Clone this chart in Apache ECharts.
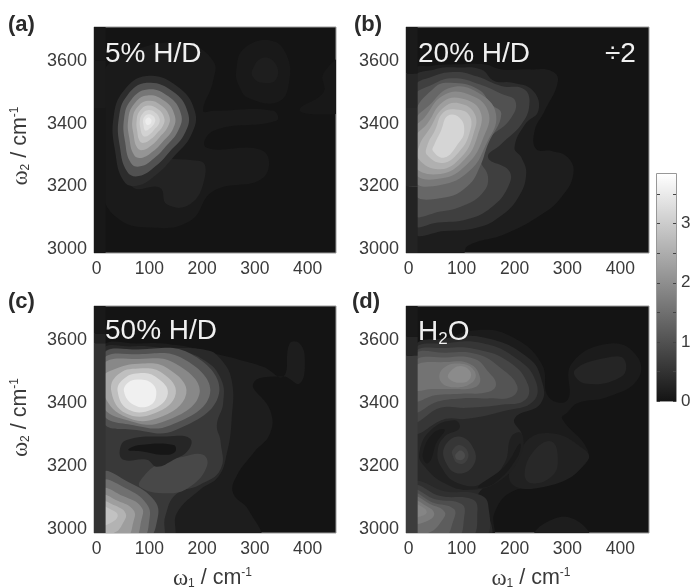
<!DOCTYPE html>
<html><head><meta charset="utf-8">
<style>html,body{margin:0;padding:0;background:#fff}#c{width:690px;height:587px;filter:blur(0.6px)}</style>
<script src="https://cdn.jsdelivr.net/npm/echarts@6/dist/echarts.min.js"></script>
</head><body><div id="c"></div>
<script>
// Each contour: [level z, x,y, x,y, ...] in (omega1, omega2) data units, painted in order.
const contoursA = [
 [0.09, 10,3547, 70,3632, 171,3653, 221,3600, 221,3536, 202,3441, 221,3441, 335,3441, 341,3409, 221,3377, 208,3324, 316,3313, 316,3228, 221,3185, 177,3090, 101,3069, 38,3101, 10,3197],
 [0.08, 265,3573, 280,3640, 330,3665, 360,3620, 365,3530, 345,3470, 290,3480, 270,3520],
 [0.06, 385,3445, 420,3430, 470,3450, 470,3610, 430,3560, 430,3500],
 [0.17, 295,3570, 315,3610, 340,3590, 340,3540, 315,3530, 298,3545],
 [0.24, 57,3260, 196,3281, 205,3228, 177,3143, 133,3143, 120,3196, 70,3196],
 [0.4, 95,3552, 152,3520, 186,3441, 180,3366, 145,3292, 114,3239, 76,3202, 51,3218, 35,3313, 32,3419, 51,3504],
 [1.0, 95,3530, 144,3503, 173,3436, 168,3372, 138,3310, 112,3265, 80,3233, 58,3247, 44,3327, 42,3417, 58,3490],
 [1.6, 96,3509, 136,3487, 160,3431, 155,3379, 131,3327, 109,3290, 83,3264, 65,3275, 54,3342, 52,3416, 65,3475],
 [2.1, 96,3490, 129,3472, 148,3427, 145,3384, 125,3342, 107,3312, 85,3291, 71,3300, 62,3354, 60,3415, 71,3463],
 [2.5, 97,3473, 122,3459, 138,3423, 135,3390, 119,3356, 105,3332, 88,3316, 77,3323, 70,3366, 68,3413, 77,3452],
 [2.85, 97,3458, 116,3447, 128,3420, 126,3394, 114,3369, 103,3351, 90,3339, 82,3344, 77,3376, 76,3412, 82,3441],
 [3.1, 97,3443, 111,3436, 119,3417, 118,3399, 109,3381, 102,3368, 93,3359, 87,3363, 83,3386, 82,3411, 87,3432],
 [3.35, 98,3430, 106,3426, 111,3414, 110,3403, 105,3391, 100,3384, 95,3378, 91,3380, 89,3395, 88,3410, 91,3423],
 [3.55, 98,3420, 103,3415, 104,3408, 101,3398, 96,3396, 93,3402, 93,3413]
];
const contoursB = [
 [0.15, 10,3568, 42,3584, 93,3589, 143,3589, 175,3573, 232,3573, 270,3568, 282,3536, 257,3441, 238,3377, 241,3319, 270,3313, 301,3292, 311,3239, 288,3165, 251,3111, 181,3048, 112,3011, 99,2970, 10,2970],
 [0.4, 10,3541, 49,3573, 93,3579, 137,3573, 162,3536, 194,3531, 235,3505, 245,3441, 220,3398, 200,3324, 213,3292, 222,3239, 207,3165, 174,3106, 130,3069, 68,3058, 10,3058],
 [0.7, 10,3082, 55,3085, 112,3096, 156,3133, 187,3196, 190,3249, 150,3292, 175,3335, 213,3398, 228,3462, 218,3510, 175,3520, 130,3550, 90,3565, 45,3550, 10,3510],
 [1.0, 10,3115, 60,3120, 105,3140, 140,3180, 150,3230, 135,3290, 150,3350, 190,3410, 202,3470, 175,3495, 135,3525, 85,3545, 45,3525, 10,3480],
 [1.35, 10,3180, 68,3165, 112,3202, 134,3260, 150,3335, 175,3430, 156,3462, 131,3510, 80,3530, 49,3515, 10,3420],
 [1.65, 10,3220, 60,3205, 115,3250, 145,3330, 165,3430, 130,3500, 80,3515, 40,3460, 10,3400],
 [1.95, 10,3245, 60,3225, 110,3270, 140,3350, 150,3440, 110,3495, 65,3490, 30,3420, 10,3380],
 [2.25, 10,3265, 60,3240, 105,3285, 130,3360, 135,3440, 100,3480, 65,3470, 35,3400, 10,3350],
 [2.55, 20,3285, 60,3255, 100,3295, 122,3365, 125,3430, 95,3465, 65,3450, 40,3385, 20,3330],
 [2.85, 35,3300, 65,3275, 95,3310, 115,3370, 115,3425, 90,3445, 65,3435, 50,3380, 35,3330],
 [3.15, 46,3313, 68,3292, 93,3335, 105,3377, 96,3419, 74,3425, 61,3377, 49,3335]
];
const contoursC = [
 [0.15, 10,3568, 82,3589, 152,3584, 221,3558, 272,3537, 316,3515, 354,3484, 366,3589, 385,3589, 395,3536, 385,3462, 354,3484, 297,3462, 329,3378, 329,3304, 297,3241, 265,3167, 259,3114, 288,3061, 306,2970, 10,2970],
 [0.35, 10,3560, 70,3580, 130,3575, 209,3568, 234,3542, 256,3473, 256,3346, 247,3241, 231,3167, 196,3125, 152,3051, 142,2970, 10,2970],
 [0.6, 10,3545, 80,3570, 150,3565, 200,3540, 235,3480, 240,3400, 228,3330, 235,3280, 235,3190, 195,3140, 150,3110, 130,3040, 122,2970, 10,2970],
 [0.85, 82,3135, 133,3114, 177,3135, 209,3199, 202,3236, 164,3230, 120,3209, 89,3167],
 [0.3, 44,3251, 57,3283, 133,3294, 177,3288, 174,3251, 146,3220, 114,3198, 95,3220, 51,3220],
 [0.03, 60,3251, 82,3267, 146,3267, 149,3246, 127,3236, 89,3246],
 [1.0, 10,3345, 75,3315, 150,3315, 232,3430, 180,3555, 80,3570, 10,3550],
 [1.45, 10,3370, 70,3330, 140,3330, 215,3430, 165,3540, 80,3555, 10,3535],
 [1.9, 10,3395, 60,3345, 125,3340, 195,3430, 150,3525, 80,3540, 10,3520],
 [2.35, 10,3436, 50,3360, 115,3352, 170,3430, 135,3510, 80,3525, 30,3505, 10,3480],
 [2.8, 28,3436, 55,3368, 110,3368, 150,3430, 125,3495, 80,3510, 40,3490],
 [3.25, 40,3436, 60,3380, 105,3380, 135,3430, 115,3480, 80,3495, 50,3475],
 [3.6, 52,3436, 70,3395, 100,3392, 113,3425, 105,3462, 80,3475, 60,3465],
 [1.1, 10,3177, 60,3150, 110,3090, 115,3030, 95,2970, 10,2970],
 [1.5, 10,3150, 55,3130, 95,3080, 100,3030, 85,2970, 10,2970],
 [1.9, 10,3125, 50,3105, 85,3070, 85,3030, 70,2970, 10,2970],
 [2.25, 10,3105, 40,3090, 70,3060, 70,3025, 55,2970, 10,2970],
 [2.6, 10,3085, 35,3075, 55,3050, 50,3020, 35,2990, 10,2985],
 [2.85, 10,3070, 30,3060, 40,3045, 32,3025, 10,3015]
];
const contoursD = [
 [0.12, 10,3557, 68,3600, 131,3632, 194,3611, 251,3526, 264,3420, 300,3410, 308,3526, 382,3589, 432,3547, 432,3473, 377,3420, 320,3400, 300,3370, 290,3350, 337,3255, 331,3202, 257,3139, 194,3118, 162,3051, 156,2970, 10,2970],
 [0.14, 238,2975, 257,3019, 308,3035, 340,2975],
 [0.27, 314,3505, 383,3547, 408,3537, 402,3484, 333,3462],
 [0.22, 194,3146, 219,3272, 270,3304, 333,3251, 339,3220, 282,3146],
 [0.32, 219,3177, 238,3251, 270,3278, 282,3220, 270,3167, 232,3146],
 [0.35, 10,3570, 70,3605, 150,3605, 225,3545, 250,3480, 250,3400, 200,3350, 215,3290, 190,3200, 140,3130, 130,3090, 150,3050, 150,2970, 10,2970],
 [0.55, 10,3565, 70,3590, 140,3590, 205,3540, 240,3470, 235,3405, 180,3375, 110,3350, 70,3350, 10,3310],
 [0.8, 10,3555, 70,3575, 130,3570, 190,3530, 225,3460, 220,3410, 175,3395, 110,3385, 60,3385, 10,3345],
 [1.05, 10,3550, 70,3560, 130,3555, 175,3510, 205,3455, 195,3420, 150,3415, 100,3415, 55,3405, 10,3375],
 [1.3, 10,3530, 70,3545, 125,3540, 150,3500, 165,3460, 150,3435, 100,3430, 50,3425, 10,3410],
 [1.55, 10,3515, 70,3530, 115,3525, 135,3480, 125,3450, 85,3445, 45,3445, 10,3445],
 [1.75, 60,3470, 65,3510, 100,3525, 125,3500, 120,3465, 85,3450],
 [1.95, 75,3480, 85,3510, 105,3515, 118,3490, 105,3465],
 [0.2, 20,3241, 42,3315, 87,3346, 96,3320, 68,3294, 55,3251, 61,3199, 93,3146, 143,3146, 181,3209, 194,3294, 213,3304, 213,3241, 175,3157, 118,3125, 68,3146, 30,3199],
 [0.1, 27,3241, 46,3304, 68,3315, 52,3273, 42,3220, 33,3209],
 [0.1, 131,3135, 181,3199, 210,3272, 206,3230, 162,3146],
 [0.55, 68,3262, 96,3294, 124,3251, 121,3199, 93,3177, 71,3209],
 [0.72, 83,3251, 96,3267, 112,3245, 108,3214, 93,3209, 83,3235],
 [0.92, 90,3240, 98,3250, 106,3238, 103,3222, 93,3220, 88,3230],
 [0.45, 10,3146, 70,3120, 130,3112, 150,3080, 140,2970, 10,2970],
 [0.7, 10,3135, 60,3105, 120,3095, 130,3060, 115,2970, 10,2970],
 [0.95, 10,3120, 50,3095, 100,3080, 105,3040, 90,2970, 10,2970],
 [1.2, 10,3110, 45,3085, 85,3065, 85,3030, 65,2970, 10,2970],
 [1.45, 10,3100, 40,3080, 68,3055, 62,3025, 40,2990, 10,2985],
 [1.7, 10,3090, 32,3075, 48,3052, 40,3030, 10,3022],
 [1.85, 10,3078, 28,3068, 34,3052, 22,3040, 10,3040]
];
// Left data strip of each panel: [omega2 from, omega2 to, level z]
const stripA = [[2985,3450,0.06],[3450,3600,0.12],[3600,3710,0.06]];
const stripB = [[2985,3200,0.25],[3200,3450,0.35],[3450,3560,0.3],[3560,3710,0.1]];
const stripC = [[2985,3590,0.5],[3590,3620,0.25],[3620,3710,0.08]];
const stripD = [[2985,3550,0.65],[3550,3610,0.3],[3610,3710,0.08]];

const xTicks = [0,100,200,300,400];
const yTicks = [3000,3200,3400,3600];
const cbTicks = [0,1,2,3];
const cbMinor = [0.5,1.5,2.5,3.5];
const xRange = [-5,454], yRange = [2988,3708], zMax = 3.84, stripEnd = 17;
const panelLetters = ['(a)','(b)','(c)','(d)'];
const insetLabels = ['5% H/D','20% H/D','50% H/D','{m|H}{s|2}{m|O}'];

const FONT = '"Liberation Sans", Arial, sans-serif';
const INK = '#3a3a3a';
const plain = v => String(v);
const gray = z => { const v = Math.round(20 + 235 * Math.min(z, zMax) / zMax); return `rgb(${v},${v},${v})`; };
const rects = [[94,27,242,226],[406,27,243,226],[94,306,242,227],[406,306,243,227]];
const axisRich = {
  o:{fontFamily:'"Liberation Serif",serif',fontSize:23,color:INK,verticalAlign:'middle'},
  t:{fontFamily:FONT,fontSize:21.5,color:INK,verticalAlign:'middle'},
  sub:{fontFamily:FONT,fontSize:12,color:INK,verticalAlign:'bottom',padding:[8,0,0,0]},
  sup:{fontFamily:FONT,fontSize:12,color:INK,verticalAlign:'top',padding:[0,0,8,0]}
};
const nameOf = n => `{o|ω}{sub|${n}}{t| / cm}{sup|-1}`;
const xNamePad = [[0,0,0,0],[0,0,0,0],[0,5,0,0],[0,0,0,7]];
const yNamePad = [[0,12,0,0],[0,0,0,0],[0,0,0,4],[0,0,0,0]];
const grids=[],xAxes=[],yAxes=[],series=[];
[[contoursA,stripA],[contoursB,stripB],[contoursC,stripC],[contoursD,stripD]].forEach(([list,strip],i)=>{
  const r=rects[i];
  grids.push({left:r[0],top:r[1],width:r[2],height:r[3],show:true,outerBoundsMode:'none',backgroundColor:gray(0),borderColor:'#9a9a9a',borderWidth:1});
  const common={type:'value',splitLine:{show:false},axisTick:{show:false},axisLine:{show:false},gridIndex:i};
  xAxes.push(Object.assign({},common,{min:xRange[0],max:xRange[1],
    name:i>=2?nameOf(1):'',nameLocation:'middle',nameGap:34,nameTextStyle:{rich:axisRich,padding:xNamePad[i]},
    axisLabel:{customValues:xTicks,formatter:plain,fontFamily:FONT,fontSize:17.5,color:INK,margin:7}}));
  yAxes.push(Object.assign({},common,{min:yRange[0],max:yRange[1],
    name:i%2==0?nameOf(2):'',nameLocation:'middle',nameGap:62,nameRotate:90,nameTextStyle:{rich:axisRich,padding:yNamePad[i]},
    axisLabel:{customValues:yTicks,formatter:plain,fontFamily:FONT,fontSize:18,color:INK,margin:7}}));
  series.push({type:'custom',coordinateSystem:'cartesian2d',xAxisIndex:i,yAxisIndex:i,clip:true,silent:true,
    animation:false,data:list.map((c,k)=>[k,c[0]]),
    renderItem(p,api){
      const c=list[p.dataIndex],pts=[];
      for(let k=1;k<c.length;k+=2)pts.push(api.coord([c[k],c[k+1]]));
      return {type:'polygon',shape:{points:pts,smooth:0.45},style:{fill:gray(c[0])}};
    }});
  series.push({type:'custom',coordinateSystem:'cartesian2d',xAxisIndex:i,yAxisIndex:i,clip:true,silent:true,z:3,
    animation:false,data:strip.map((s,k)=>[k,s[2]]),
    renderItem(p,api){
      const s=strip[p.dataIndex],a=api.coord([xRange[0],s[1]]),b=api.coord([stripEnd,s[0]]);
      return {type:'rect',shape:{x:a[0],y:a[1],width:b[0]-a[0],height:b[1]-a[1]},style:{fill:gray(s[2])}};
    }});
});
// colour bar
grids.push({left:657,top:174,width:19,height:227,show:true,outerBoundsMode:'none',borderColor:'#777',borderWidth:1.5});
xAxes.push({type:'category',gridIndex:4,data:['z'],axisLabel:{show:false},axisTick:{show:false},axisLine:{show:false}});
const tickStyle={show:true,inside:true,length:3,customValues:cbMinor.concat(cbTicks),lineStyle:{color:'#444'}};
yAxes.push({type:'value',gridIndex:4,position:'right',min:0,max:zMax,z:6,splitLine:{show:false},axisLine:{show:false},
  axisTick:tickStyle,axisLabel:{customValues:cbTicks,fontFamily:FONT,fontSize:17,color:INK,margin:5}});
yAxes.push({type:'value',gridIndex:4,position:'left',min:0,max:zMax,z:6,splitLine:{show:false},axisLine:{show:false},
  axisTick:tickStyle,axisLabel:{show:false}});
series.push({type:'bar',xAxisIndex:4,yAxisIndex:5,data:[zMax],barWidth:'100%',silent:true,animation:false,
  itemStyle:{color:new echarts.graphic.LinearGradient(0,0,0,1,[{offset:0,color:gray(zMax)},{offset:1,color:gray(0)}])}});

const titles=[];
const lx=[8,354,8,352], ly=[14,14,291,291], ix=[105,418,105,418], iy=[40,40,317,317];
panelLetters.forEach((t,i)=>titles.push({text:t,left:lx[i],top:ly[i],padding:0,textStyle:{fontFamily:FONT,fontWeight:'bold',fontSize:22,color:'#2b2b2b'}}));
insetLabels.forEach((t,i)=>titles.push({text:t,left:ix[i],top:iy[i],padding:0,textStyle:{fontFamily:FONT,fontWeight:'normal',fontSize:28,color:'#f0f0f0',
  rich:{m:{fontFamily:FONT,fontSize:28,color:'#f0f0f0'},s:{fontFamily:FONT,fontSize:17,color:'#f0f0f0',verticalAlign:'bottom',padding:[14,0,0,0]}}}}));
titles.push({text:'÷2',left:605,top:40,padding:0,textStyle:{fontFamily:FONT,fontWeight:'normal',fontSize:28,color:'#f0f0f0'}});

const chart=echarts.init(document.getElementById('c'),null,{renderer:'canvas'});
chart.setOption({animation:false,backgroundColor:'#fff',title:titles,grid:grids,xAxis:xAxes,yAxis:yAxes,series});
</script></body></html>
